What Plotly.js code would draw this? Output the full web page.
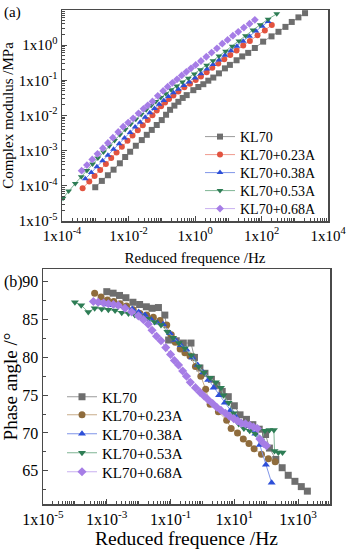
<!DOCTYPE html>
<html><head><meta charset="utf-8">
<script src="https://cdn.plot.ly/plotly-3.0.1.min.js"></script>
<style>html,body{margin:0;padding:0;background:#fff}#chart{width:347px;height:550px}</style>
</head><body><div id="chart"></div>
<script>
// ---------- (a) complex modulus ----------
const seriesNames = ['KL70', 'KL70+0.23A', 'KL70+0.38A', 'KL70+0.53A', 'KL70+0.68A'];

const modFreqKL70 = [1.00e-3,1.58e-3,2.40e-3,3.55e-3,5.50e-3,7.94e-3,1.12e-2,1.66e-2,2.51e-2,3.55e-2,5.01e-2,7.08e-2,0.100,0.135,0.178,0.240,0.316,0.427,0.562,0.891,1.26,1.78,2.51,3.55,5.25,7.94,11.2,17.8,26.3,39.8,63.1,112,200,324,525,813,1290,2040];
const modKL70 = [9.12e-5,1.38e-4,2.00e-4,2.88e-4,4.37e-4,6.61e-4,9.33e-4,1.38e-3,2.00e-3,2.82e-3,3.89e-3,5.37e-3,7.41e-3,1.05e-2,1.45e-2,1.91e-2,2.45e-2,3.16e-2,3.80e-2,5.25e-2,6.46e-2,7.76e-2,9.77e-2,0.120,0.158,0.219,0.275,0.372,0.479,0.603,0.832,1.26,1.78,2.40,3.31,4.57,6.17,8.13];

const modFreqA23 = [4.17e-4,6.61e-4,9.55e-4,1.41e-3,2.09e-3,3.02e-3,4.37e-3,6.31e-3,9.33e-3,1.32e-2,1.91e-2,2.69e-2,3.80e-2,5.25e-2,7.08e-2,9.55e-2,0.126,0.166,0.224,0.316,0.479,0.708,1.05,1.51,2.24,3.31,5.01,7.59,11.5,17.8,28.2,44.7,75.9,126,204];
const modA23 = [8.51e-5,1.32e-4,1.91e-4,2.82e-4,4.17e-4,6.17e-4,8.91e-4,1.29e-3,1.91e-3,2.69e-3,3.80e-3,5.25e-3,7.41e-3,1.02e-2,1.38e-2,1.82e-2,2.34e-2,2.95e-2,3.72e-2,4.79e-2,6.31e-2,7.94e-2,0.102,0.129,0.170,0.229,0.302,0.398,0.525,0.708,0.977,1.32,1.91,2.63,3.72];

const modFreqA38 = [5.01e-4,7.59e-4,1.12e-3,1.66e-3,2.40e-3,3.55e-3,5.25e-3,7.59e-3,1.12e-2,1.58e-2,2.24e-2,3.16e-2,4.37e-2,6.03e-2,8.32e-2,0.115,0.158,0.224,0.316,0.457,0.661,1.00,1.51,2.29,3.47,5.25,7.94,12.0,18.2,28.2,43.7,67.6,105,158];
const modA38 = [1.58e-4,2.40e-4,3.47e-4,5.13e-4,7.41e-4,1.10e-3,1.58e-3,2.29e-3,3.31e-3,4.68e-3,6.46e-3,8.91e-3,1.20e-2,1.58e-2,2.09e-2,2.69e-2,3.47e-2,4.47e-2,5.62e-2,7.08e-2,8.91e-2,0.117,0.155,0.209,0.282,0.380,0.513,0.692,0.933,1.29,1.78,2.51,3.47,4.68];

const modFreqA53 = [1.07e-4,1.58e-4,2.51e-4,3.80e-4,5.62e-4,8.32e-4,1.20e-3,1.78e-3,2.63e-3,3.80e-3,5.50e-3,7.94e-3,1.15e-2,1.66e-2,2.40e-2,3.39e-2,4.79e-2,6.61e-2,9.33e-2,0.132,0.191,0.282,0.417,0.631,0.955,1.45,2.24,3.47,5.25,8.32,13.2,20.9,33.1,55.0,91.2,158,288];
const modA53 = [4.47e-5,7.08e-5,1.17e-4,1.82e-4,2.75e-4,4.17e-4,6.17e-4,9.12e-4,1.35e-3,1.95e-3,2.82e-3,3.98e-3,5.62e-3,7.76e-3,1.07e-2,1.45e-2,1.91e-2,2.51e-2,3.24e-2,4.17e-2,5.37e-2,6.92e-2,8.91e-2,0.115,0.151,0.200,0.269,0.363,0.490,0.676,0.933,1.32,1.86,2.69,3.80,5.50,7.76];

const modFreqA68 = [3.89e-4,5.62e-4,8.13e-4,1.17e-3,1.70e-3,2.40e-3,3.39e-3,4.90e-3,6.92e-3,9.77e-3,1.38e-2,2.00e-2,2.82e-2,3.80e-2,5.25e-2,7.59e-2,0.110,0.151,0.209,0.288,0.398,0.550,0.759,1.05,1.51,2.19,3.16,4.57,6.61,9.55,13.8,20.0,29.5,43.7,63.1];
const modA68 = [2.69e-4,3.89e-4,5.62e-4,8.13e-4,1.17e-3,1.66e-3,2.34e-3,3.39e-3,4.79e-3,6.31e-3,8.32e-3,1.15e-2,1.55e-2,1.95e-2,2.51e-2,3.63e-2,5.01e-2,6.61e-2,8.51e-2,0.107,0.138,0.174,0.219,0.275,0.355,0.468,0.617,0.813,1.10,1.41,1.86,2.40,3.16,4.07,5.25];

// ---------- (b) phase angle ----------
const phFreqKL70 = [1.00e-3,1.58e-3,2.51e-3,3.98e-3,6.61e-3,1.07e-2,1.74e-2,2.63e-2,4.17e-2,6.61e-2,8.71e-2,0.151,0.251,0.437,0.562,0.832,1.20,1.91,2.82,4.17,6.46,10.0,15.1,24.0,38.0,60.3,95.5,126,200,316,490,794,1259,1950];
const phKL70 = [88.7,88.5,88.2,87.9,87.3,87.0,86.7,86.5,86.6,85.6,82.3,82.2,81.9,81.9,80.0,78.6,77.9,77.1,76.3,75.5,74.8,73.6,72.4,71.8,71.1,70.5,69.8,68.0,66.5,65.4,64.4,63.6,62.9,62.3];

const phFreqA23 = [4.17e-4,6.61e-4,1.05e-3,1.66e-3,2.63e-3,4.17e-3,6.76e-3,1.10e-2,1.78e-2,2.88e-2,4.68e-2,7.59e-2,0.105,0.141,0.200,0.282,0.407,0.603,0.891,1.26,1.74,3.16,5.75,7.94,12.6,19.1,28.8,41.7,70.8,117,191];
const phA23 = [88.5,88.0,87.6,87.4,87.1,86.8,86.3,85.8,85.6,85.3,84.9,84.3,83.0,82.0,81.1,80.6,80.2,78.8,77.5,75.8,73.8,72.8,71.7,70.6,70.0,69.2,68.6,67.9,67.2,66.6,66.2];

const phFreqA38 = [6.31e-4,1.00e-3,1.58e-3,2.51e-3,3.98e-3,6.31e-3,1.00e-2,1.58e-2,2.51e-2,3.80e-2,5.89e-2,9.55e-2,0.141,0.209,0.316,0.479,0.708,1.05,1.51,2.24,3.31,5.01,7.59,11.2,16.6,24.0,33.1,45.7,63.1,97.7,148];
const phA38 = [87.2,87.0,86.9,86.8,86.6,86.4,86.0,85.6,85.0,84.6,84.4,83.2,82.3,81.6,81.0,80.0,79.0,78.0,77.0,76.0,75.0,74.0,73.0,72.1,71.4,70.9,70.4,69.9,68.4,65.8,63.4];

const phFreqA53 = [1.00e-4,1.58e-4,2.63e-4,4.17e-4,6.92e-4,1.12e-3,1.82e-3,2.95e-3,4.79e-3,7.59e-3,1.20e-2,1.91e-2,3.16e-2,5.01e-2,7.94e-2,0.120,0.182,0.282,0.447,0.759,1.12,1.74,2.63,3.80,4.57,6.61,9.55,13.8,20.0,30.2,45.7,69.2,91.2,126,174,182,240,324];
const phA53 = [87.3,86.9,86.0,86.5,86.4,86.3,86.2,85.9,85.8,85.6,85.4,85.1,84.7,84.3,83.4,82.6,81.9,81.2,80.3,78.8,78.0,77.3,76.7,76.0,75.0,74.0,72.6,71.2,70.6,70.3,69.9,69.0,70.3,70.4,70.4,67.6,67.4,67.4];

const phFreqA68 = [3.80e-4,5.37e-4,7.94e-4,1.12e-3,1.62e-3,2.29e-3,3.72e-3,6.03e-3,9.77e-3,1.41e-2,2.00e-2,2.63e-2,3.63e-2,5.01e-2,7.08e-2,0.100,0.132,0.178,0.240,0.316,0.417,0.603,0.832,1.12,1.51,2.09,2.82,3.80,5.25,7.08,9.55,12.6,16.6,22.4,30.2,39.8,52.5,63.1,83.2,102];
const phA68 = [87.4,87.3,87.2,87.1,87.0,86.9,86.5,86.0,85.5,85.0,84.4,83.6,82.8,82.2,81.3,80.4,79.6,79.0,78.2,77.5,76.7,76.0,75.4,74.9,74.4,73.9,73.4,73.0,72.6,72.2,71.9,71.6,71.3,71.2,71.0,70.8,70.6,69.2,68.6,68.3];

// ---------- ticks ----------
const modXTickVals = [1e-4, 1e-2, 1e0, 1e2, 1e4];
const modXTickText = ['1x10<sup>-4</sup>','1x10<sup>-2</sup>','1x10<sup>0</sup>','1x10<sup>2</sup>','1x10<sup>4</sup>'];
const modYTickVals = [1e-5, 1e-4, 1e-3, 1e-2, 1e-1, 1e0, 1e1];
const modYTickText = ['1x10<sup>-5</sup>','1x10<sup>-4</sup>','1x10<sup>-3</sup>','1x10<sup>-2</sup>','1x10<sup>-1</sup>','1x10<sup>0</sup>','1x10<sup>1</sup>'];
const phXTickVals = [1e-5, 1e-3, 1e-1, 1e1, 1e3];
const phXTickText = ['1x10<sup>-5</sup>','1x10<sup>-3</sup>','1x10<sup>-1</sup>','1x10<sup>1</sup>','1x10<sup>3</sup>'];

// ---------- styles ----------
const symbols = ['square','circle','triangle-up','triangle-down','diamond'];
const topColors = ['#6e6e6e','#e2533f','#2d4fd8','#2e7d55','#a67de6'];
const topLineColors = ['#9a9a9a','#f09a8e','#7f95e8','#7fb594','#c8b0f0'];
const botColors = ['#6e6e6e','#8f6c3c','#2d4fd8','#2e7d55','#a67de6'];
const botLineColors = ['#9a9a9a','#c8ad8a','#7f95e8','#7fb594','#c8b0f0'];

const modF = [modFreqKL70, modFreqA23, modFreqA38, modFreqA53, modFreqA68];
const modV = [modKL70, modA23, modA38, modA53, modA68];
const phF = [phFreqKL70, phFreqA23, phFreqA38, phFreqA53, phFreqA68];
const phV = [phKL70, phA23, phA38, phA53, phA68];

const W = 347, H = 550;
const FONT = 'Liberation Serif, Times New Roman, serif';
const topLegendY = [137, 155, 173, 191, 209];
const botLegendY = [397, 415, 434, 453, 472];

const traces = [];
const legends = {};
for (let i = 0; i < 5; i++) {
  const lg = i === 0 ? 'legend' : 'legend' + (i + 1);
  traces.push({
    x: modF[i], y: modV[i], name: seriesNames[i], type: 'scatter', mode: 'lines+markers',
    xaxis: 'x', yaxis: 'y', legend: lg,
    line: {color: topLineColors[i], width: 1},
    marker: {symbol: symbols[i], size: 6, color: topColors[i]}
  });
  legends[lg] = {
    x: 200/W, y: 1 - topLegendY[i]/H, xanchor: 'left', yanchor: 'middle',
    bgcolor: 'rgba(0,0,0,0)', borderwidth: 0, font: {family: FONT, size: 14, color: '#000'}
  };
}
for (let i = 0; i < 5; i++) {
  const lg = 'legend' + (i + 6);
  traces.push({
    x: phF[i], y: phV[i], name: seriesNames[i], type: 'scatter', mode: 'lines+markers',
    xaxis: 'x2', yaxis: 'y2', legend: lg,
    line: {color: botLineColors[i], width: 1},
    marker: {symbol: symbols[i], size: 7, color: botColors[i]}
  });
  legends[lg] = {
    x: 62/W, y: 1 - botLegendY[i]/H, xanchor: 'left', yanchor: 'middle',
    bgcolor: 'rgba(0,0,0,0)', borderwidth: 0, font: {family: FONT, size: 15, color: '#000'}
  };
}

const axBase = {
  showline: true, mirror: true, linecolor: '#4a4a4a', linewidth: 1.5, automargin: false,
  showgrid: false, zeroline: false, ticks: 'inside', ticklen: 5, tickwidth: 1, tickcolor: '#4a4a4a',
  tickfont: {family: FONT, size: 15, color: '#000'}
};
const layout = Object.assign({
  width: W, height: H, margin: {l: 0, r: 0, t: 0, b: 0, autoexpand: false},
  paper_bgcolor: '#fff', plot_bgcolor: '#fff', font: {family: FONT, color: '#000'},
  xaxis: Object.assign({}, axBase, {
    type: 'log', domain: [62/W, 328/W], range: [-4, 4], anchor: 'y',
    tickmode: 'array', tickvals: modXTickVals, ticktext: modXTickText,
    minor: {dtick: 'D1', ticks: 'inside', ticklen: 3, tickcolor: '#4a4a4a'},
    title: {text: 'Reduced frequence /Hz', font: {family: FONT, size: 15}, standoff: 10}
  }),
  yaxis: Object.assign({}, axBase, {
    type: 'log', domain: [1 - 221/H, 1 - 10/H], range: [-5, 1], anchor: 'x',
    tickmode: 'array', tickvals: modYTickVals, ticktext: modYTickText,
    minor: {dtick: 'D1', ticks: 'inside', ticklen: 3, tickcolor: '#4a4a4a'},
    title: {text: 'Complex modulus /MPa', font: {family: FONT, size: 15}, standoff: 2}
  }),
  xaxis2: Object.assign({}, axBase, {
    type: 'log', domain: [43/W, 330/W], range: [-5, 4], anchor: 'y2',
    tickmode: 'array', tickvals: phXTickVals, ticktext: phXTickText,
    minor: {dtick: 'D1', ticks: 'inside', ticklen: 3, tickcolor: '#4a4a4a'},
    tickfont: {family: FONT, size: 16, color: '#000'},
    title: {text: 'Reduced frequence /Hz', font: {family: FONT, size: 19.5}, standoff: 3}
  }),
  yaxis2: Object.assign({}, axBase, {
    domain: [1 - 504/H, 1 - 269/H], range: [60.6, 91.7], anchor: 'x2',
    tickmode: 'linear', tick0: 65, dtick: 5,
    minor: {dtick: 2.5, ticks: 'inside', ticklen: 3, tickcolor: '#4a4a4a'},
    tickfont: {family: FONT, size: 16, color: '#000'},
    title: {text: 'Phase angle /°', font: {family: FONT, size: 19}, standoff: 6}
  }),
  annotations: [
    {text: '(a)', xref: 'paper', yref: 'paper', x: 2/W, y: 1 - 12/H, xanchor: 'left', yanchor: 'middle', showarrow: false, font: {family: FONT, size: 15}},
    {text: '(b)', xref: 'paper', yref: 'paper', x: 2/W, y: 1 - 282/H, xanchor: 'left', yanchor: 'middle', showarrow: false, font: {family: FONT, size: 16}}
  ],
  showlegend: true
}, legends);
Plotly.newPlot('chart', traces, layout, {staticPlot: true, displayModeBar: false});
</script></body></html>
